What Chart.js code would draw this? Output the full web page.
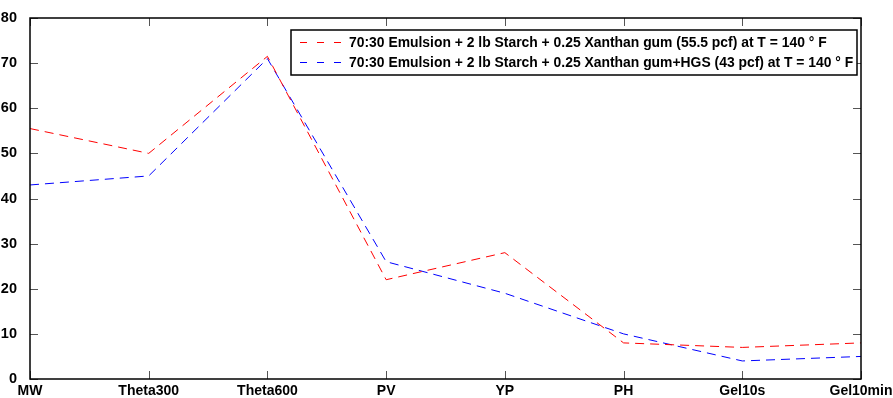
<!DOCTYPE html>
<html>
<head>
<meta charset="utf-8">
<script src="https://cdn.jsdelivr.net/npm/chart.js@4"></script>
<style>
  html, body { margin: 0; padding: 0; background: #fff; }
  #wrap { width: 893px; height: 398px; }
</style>
</head>
<body>
<div id="wrap"><canvas id="chart" width="893" height="398"></canvas></div>
<script>
const categories = ['MW', 'Theta300', 'Theta600', 'PV', 'YP', 'PH', 'Gel10s', 'Gel10min'];
const emulsion55 = [55.5, 50, 71.5, 22, 28, 8, 7, 8];
const emulsionHgs43 = [43, 45, 71, 26, 19, 10, 4, 5];
const yMin = 0, yMax = 80, yStep = 10;
const seriesLabels = [
    '70:30 Emulsion + 2 lb Starch + 0.25 Xanthan gum (55.5 pcf) at T = 140 \u00b0 F',
    '70:30 Emulsion + 2 lb Starch + 0.25 Xanthan gum+HGS (43 pcf) at T = 140 \u00b0 F'
];

const FONT = "'Liberation Sans', Arial, Helvetica, sans-serif";

// matlab style frame with inward ticks
const framePlugin = {
    id: 'frame',
    afterDraw(chart) {
        const { ctx, chartArea: a, scales } = chart;
        const len = 8;
        ctx.save();
        ctx.strokeStyle = '#555';
        ctx.lineWidth = 1;
        ctx.beginPath();
        scales.x.ticks.forEach((t, i) => {
            const x = Math.round(scales.x.getPixelForTick(i)) + 0.5;
            ctx.moveTo(x, a.bottom); ctx.lineTo(x, a.bottom - len);
            ctx.moveTo(x, a.top); ctx.lineTo(x, a.top + len);
        });
        scales.y.ticks.forEach(t => {
            const y = Math.round(scales.y.getPixelForValue(t.value)) + 0.5;
            ctx.moveTo(a.left, y); ctx.lineTo(a.left + len, y);
            ctx.moveTo(a.right, y); ctx.lineTo(a.right - len, y);
        });
        ctx.stroke();
        ctx.strokeStyle = '#000';
        ctx.lineWidth = 1.5;
        ctx.strokeRect(a.left, a.top, a.right - a.left, a.bottom - a.top);
        ctx.restore();
    }
};

// legend box in the top right corner
const boxLegend = {
    id: 'boxLegend',
    afterDraw(chart) {
        const ctx = chart.ctx;
        const box = { x: 291, y: 30, w: 566, h: 45 };
        ctx.save();
        ctx.fillStyle = '#fff';
        ctx.fillRect(box.x, box.y, box.w, box.h);
        chart.data.datasets.forEach((ds, i) => {
            const y = 42 + i * 20;
            ctx.strokeStyle = ds.borderColor;
            ctx.lineWidth = 1;
            ctx.setLineDash([7, 10]);
            ctx.beginPath();
            ctx.moveTo(300, y + 0.5);
            ctx.lineTo(343, y + 0.5);
            ctx.stroke();
            ctx.setLineDash([]);
            ctx.fillStyle = '#000';
            ctx.font = 'bold 13.9px ' + FONT;
            ctx.textBaseline = 'middle';
            ctx.fillText(ds.label, 349, y + 1);
        });
        ctx.strokeStyle = '#000';
        ctx.lineWidth = 1.5;
        ctx.strokeRect(box.x, box.y, box.w, box.h);
        ctx.restore();
    }
};

new Chart(document.getElementById('chart'), {
    type: 'line',
    data: {
        labels: categories,
        datasets: [{
            label: seriesLabels[0],
            data: emulsion55,
            borderColor: '#ff0000',
            borderWidth: 1,
            borderDash: [9, 6],
            pointRadius: 0,
            tension: 0,
            fill: false
        }, {
            label: seriesLabels[1],
            data: emulsionHgs43,
            borderColor: '#0000ff',
            borderWidth: 1,
            borderDash: [9, 6],
            pointRadius: 0,
            tension: 0,
            fill: false
        }]
    },
    options: {
        responsive: false,
        animation: false,
        layout: { padding: { left: 0, top: 18, right: 32, bottom: 0 } },
        plugins: {
            legend: { display: false },
            tooltip: { enabled: false }
        },
        scales: {
            x: {
                offset: false,
                grid: { display: false },
                border: { display: false },
                ticks: {
                    color: '#000',
                    padding: -4,
                    maxRotation: 0,
                    autoSkip: false,
                    font: { family: FONT, size: 14, weight: 'bold' }
                },
                afterFit(scale) { scale.height = 19; }
            },
            y: {
                min: yMin,
                max: yMax,
                grid: { display: false },
                border: { display: false },
                ticks: {
                    stepSize: yStep,
                    color: '#000',
                    padding: 5,
                    font: { family: FONT, size: 14.5, weight: 'bold' }
                },
                afterFit(scale) { scale.width = 30; }
            }
        }
    },
    plugins: [framePlugin, boxLegend]
});
</script>
</body>
</html>
